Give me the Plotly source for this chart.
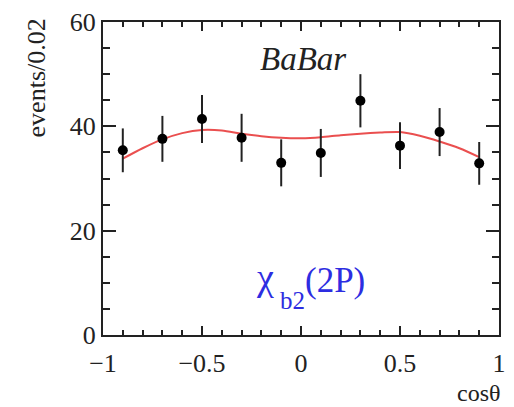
import plotly.graph_objects as go

# data points
cos_theta = [-0.9, -0.7, -0.5, -0.3, -0.1, 0.1, 0.3, 0.5, 0.7, 0.9]
events = [35.4, 37.6, 41.4, 37.8, 33.0, 34.9, 44.9, 36.3, 38.9, 32.9]
errors = [4.2, 4.4, 4.6, 4.6, 4.5, 4.6, 5.1, 4.5, 4.6, 4.1]

# fit curve
fit_x = [-0.9, -0.8, -0.7, -0.6, -0.5, -0.4, -0.3, -0.2, -0.1, 0.0,
         0.1, 0.2, 0.3, 0.4, 0.5, 0.6, 0.7, 0.8, 0.9]
fit_y = [33.8, 35.8, 37.5, 38.7, 39.3, 39.2, 38.6, 38.1, 37.8, 37.7,
         37.9, 38.3, 38.6, 38.8, 38.9, 38.2, 37.1, 35.8, 34.1]

x_ticks = [-1, -0.5, 0, 0.5, 1]
x_tick_labels = ["\u22121", "\u22120.5", "0", "0.5", "1"]
y_ticks = [0, 20, 40, 60]

FONT = "Liberation Serif, Times New Roman, serif"
BLUE = "rgb(45,45,225)"

fig = go.Figure()
fig.add_trace(go.Scatter(
    x=fit_x, y=fit_y, mode="lines",
    line=dict(color="rgba(232,60,60,0.9)", width=2, shape="spline", smoothing=0.8),
    hoverinfo="skip", showlegend=False))
fig.add_trace(go.Scatter(
    x=cos_theta, y=events, mode="markers",
    marker=dict(color="black", size=10),
    error_y=dict(type="data", array=errors, color="#222", thickness=2, width=0),
    showlegend=False))

axis_common = dict(
    showgrid=False, zeroline=False, showline=True, linecolor="#222", linewidth=2,
    mirror="allticks", ticks="inside", tickcolor="#222", tickwidth=1.5,
    tickfont=dict(family=FONT, size=26, color="#222"),
)

fig.update_xaxes(
    range=[-1, 1], tickvals=x_ticks, ticktext=x_tick_labels, ticklen=9,
    minor=dict(dtick=0.1, tick0=0, ticklen=5, ticks="inside", tickcolor="#222", tickwidth=1.5),
    ticklabelstandoff=4,
    **axis_common)
fig.update_yaxes(
    range=[0, 60], tickvals=y_ticks, ticklen=13,
    minor=dict(dtick=5, tick0=0, ticklen=7, ticks="inside", tickcolor="#222", tickwidth=1.5),
    ticklabelstandoff=0,
    **axis_common)

fig.add_annotation(text="events/0.02", xref="paper", yref="paper",
                   x=-0.169, y=0.82, textangle=-90, showarrow=False,
                   xanchor="center", yanchor="middle",
                   font=dict(family=FONT, size=26, color="#222"))
fig.add_annotation(text="cos\u03b8", xref="paper", yref="paper",
                   x=1.01, y=-0.185, showarrow=False,
                   xanchor="right", yanchor="middle",
                   font=dict(family=FONT, size=24, color="#222"))
fig.add_annotation(text="<i>BaBar</i>", xref="paper", yref="paper",
                   x=0.505, y=0.882, showarrow=False,
                   xanchor="center", yanchor="middle",
                   font=dict(family=FONT, size=33, color="#222"))
# chi_b2(2P) label built from three pieces
fig.add_annotation(text="\u03c7", xref="paper", yref="paper",
                   x=0.382, y=0.184, showarrow=False,
                   xanchor="left", yanchor="middle",
                   font=dict(family=FONT, size=38, color=BLUE))
fig.add_annotation(text="b2", xref="paper", yref="paper",
                   x=0.442, y=0.11, showarrow=False,
                   xanchor="left", yanchor="middle",
                   font=dict(family=FONT, size=25, color=BLUE))
fig.add_annotation(text="(2P)", xref="paper", yref="paper",
                   x=0.504, y=0.173, showarrow=False,
                   xanchor="left", yanchor="middle",
                   font=dict(family=FONT, size=35, color=BLUE))

fig.update_layout(
    width=514, height=407,
    margin=dict(l=103, r=8, t=14, b=72),
    paper_bgcolor="white", plot_bgcolor="white",
)

fig.write_html("out.html")
